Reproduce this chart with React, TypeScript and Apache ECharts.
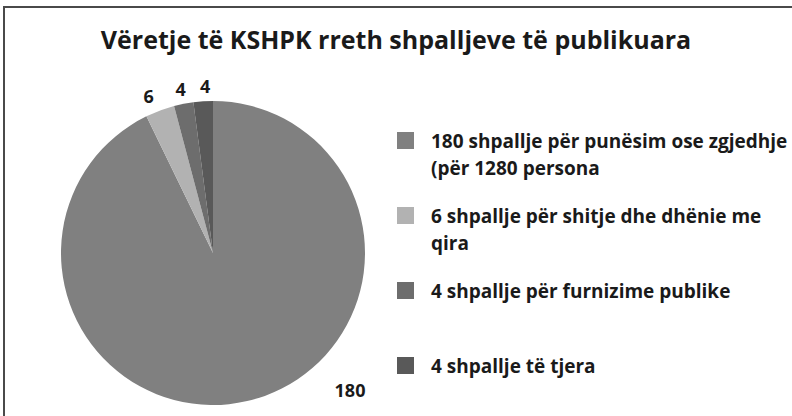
import React, { useEffect, useRef } from "react";
import * as echarts from "echarts";

const titleText = "Vëretje të KSHPK rreth shpalljeve të publikuara";
const categories = [
  "180 shpallje për punësim ose zgjedhje (për 1280 persona",
  "6 shpallje për shitje dhe dhënie me qira",
  "4 shpallje për furnizime publike",
  "4 shpallje të tjera",
];
const legendLabels = [
  "180 shpallje për punësim ose zgjedhje\n(për 1280 persona",
  "6 shpallje për shitje dhe dhënie me\nqira",
  "4 shpallje për furnizime publike",
  "4 shpallje të tjera",
];
const values = [180, 6, 4, 4];
const colors = ["#808080", "#b2b2b2", "#6d6d6d", "#595959"];

const FONT = "Open Sans";
const LINE = 27;

export default function App() {
  const ref = useRef<HTMLDivElement>(null);
  useEffect(() => {
    if (!ref.current) return;
    const chart = echarts.init(ref.current, null, { renderer: "svg" });
    const labelMap: Record<string, string> = {};
    // pad every legend entry to three lines so that the key square sits beside the first line
    categories.forEach((c, i) => {
      const lbl = legendLabels[i];
      labelMap[c] = lbl.includes("\n") ? "\n" + lbl : "\n" + lbl + "\n";
    });
    chart.setOption({
      animation: false,
      backgroundColor: "#ffffff",
      title: {
        text: titleText,
        left: "center",
        top: 21,
        textStyle: { fontFamily: FONT, fontWeight: "bold", fontSize: 25, color: "#1a1a1a" },
      },
      legend: {
        orient: "vertical",
        left: 397,
        top: 100,
        padding: 0,
        itemGap: -6,
        itemWidth: 17,
        itemHeight: 17,
        icon: "rect",
        selectedMode: false,
        formatter: (name: string) => labelMap[name] || name,
        textStyle: {
          fontFamily: FONT,
          fontWeight: "bold",
          fontSize: 19,
          color: "#1a1a1a",
          lineHeight: LINE,
          padding: [0, 0, 0, 12],
        },
        data: categories,
      },
      graphic: [
        { type: "line", shape: { x1: 3, y1: 7, x2: 792, y2: 7 }, style: { stroke: "#4a4a4a", lineWidth: 2 } },
        { type: "line", shape: { x1: 4, y1: 6, x2: 4, y2: 416 }, style: { stroke: "#4a4a4a", lineWidth: 2 } },
      ],
      series: [
        {
          type: "pie",
          center: [213, 253],
          radius: 152,
          startAngle: 90,
          clockwise: true,
          avoidLabelOverlap: false,
          silent: true,
          color: colors,
          itemStyle: { borderWidth: 0 },
          label: {
            show: true,
            position: "outside",
            formatter: "{c}",
            fontFamily: FONT,
            fontWeight: "bold",
            fontSize: 18,
            color: "#1a1a1a",
            distanceToLabelLine: 0,
          },
          labelLine: { show: false, length: 15, length2: 0 },
          labelLayout: (params: any) => {
            if (params.dataIndex === 0) {
              return { x: 350, y: 390, align: "center", verticalAlign: "middle" };
            }
            const dx = params.dataIndex === 1 ? -6 : params.dataIndex === 3 ? 3 : 0;
            return { dx, align: "center", verticalAlign: "middle" };
          },
          data: categories.map((name, i) => ({ name, value: values[i] })),
        },
      ],
    });
    return () => chart.dispose();
  }, []);
  return (
    <div
      ref={ref}
      style={{ position: "fixed", left: 0, top: 0, width: 792, height: 416 }}
    />
  );
}
